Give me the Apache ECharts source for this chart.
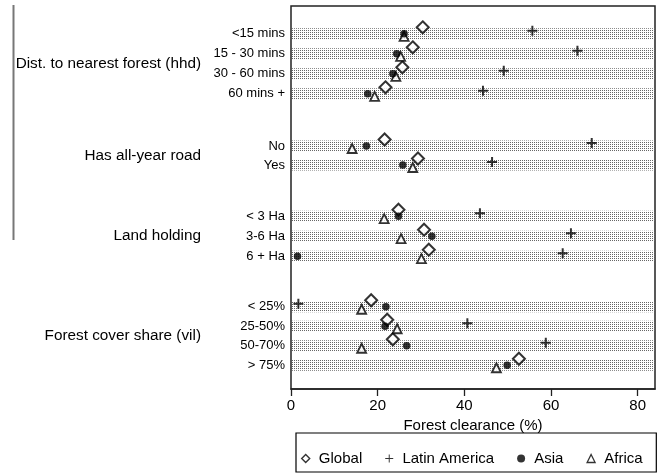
<!DOCTYPE html>
<html>
<head>
<meta charset="utf-8">
<script src="https://cdn.jsdelivr.net/npm/echarts@6/dist/echarts.min.js"></script>
<style>html,body{margin:0;padding:0;background:#fff;}#c{width:662px;height:474px;}</style>
</head>
<body>
<div id="c"></div>
<script>
// ---------- data ----------
const groups = ['Dist. to nearest forest (hhd)', 'Has all-year road', 'Land holding', 'Forest cover share (vil)'];
const catsDist = ['<15 mins', '15 - 30 mins', '30 - 60 mins', '60 mins +'];
const catsRoad = ['No', 'Yes'];
const catsLand = ['< 3 Ha', '3-6 Ha', '6 + Ha'];
const catsCover = ['< 25%', '25-50%', '50-70%', '> 75%'];
// values in row order (all groups concatenated)
const globalVals = [30.4, 28.1, 25.7, 21.8, 21.6, 29.3, 24.8, 30.7, 31.8, 18.5, 22.2, 23.5, 52.6];
const latinVals  = [55.7, 66.1, 49.1, 44.3, 69.4, 46.4, 43.6, 64.6, 62.7, 1.7, 40.7, 58.8, null];
const asiaVals   = [26.1, 24.4, 23.5, 17.7, 17.4, 25.8, 24.8, 32.5, 1.5, 21.9, 21.7, 26.7, 49.9];
const africaVals = [26.1, 25.3, 24.2, 19.3, 14.1, 28.1, 21.5, 25.4, 30.1, 16.3, 24.5, 16.3, 47.4];
const xTicks = [0, 20, 40, 60, 80];
const xMax = 84;
const seriesNames = ['Global', 'Latin America', 'Asia', 'Africa'];

// ---------- styling / layout ----------
const FONT = "'Liberation Sans', Arial, Helvetica, sans-serif";
const groupCats = [catsDist, catsRoad, catsLand, catsCover];
const gridTops = [23.8, 136.5, 206.2, 297];
const rowH = [20, 19, 20, 19.5];
const PLUS = 'path://M4,0 H6 V4 H10 V6 H6 V10 H4 V6 H0 V4 H4 Z';
const PLUS_THIN = 'path://M4.4,0 H5.6 V4.4 H10 V5.6 H5.6 V10 H4.4 V5.6 H0 V4.4 H4.4 Z';

const pc = document.createElement('canvas');
pc.width = 2; pc.height = 2;
const pctx = pc.getContext('2d');
pctx.fillStyle = '#666';
pctx.fillRect(0, 0, 1, 1);
const bandPattern = { image: pc, repeat: 'repeat' };

const seriesDefs = [
  { name: seriesNames[0], values: globalVals, symbol: 'diamond', size: 12, offset: [0, -6.5],
    itemStyle: { color: '#fff', borderColor: '#000', borderWidth: 2 }, z: 4 },
  { name: seriesNames[1], values: latinVals, symbol: PLUS, size: 10, offset: [0, -3],
    itemStyle: { color: '#000' }, z: 5 },
  { name: seriesNames[2], values: asiaVals, symbol: 'circle', size: 7.5, offset: [0, 0],
    itemStyle: { color: '#000' }, z: 7 },
  { name: seriesNames[3], values: africaVals, symbol: 'triangle', size: 9, offset: [0, 2.5],
    itemStyle: { color: '#fff', borderColor: '#000', borderWidth: 1.8 }, z: 6 }
];

const grids = [], xAxes = [], yAxes = [], series = [];
let start = 0;
groupCats.forEach((cats, g) => {
  grids.push({ left: 291, right: 7, top: gridTops[g], height: rowH[g] * cats.length });
  xAxes.push({ gridIndex: g, type: 'value', min: 0, max: xMax, show: false });
  yAxes.push({
    gridIndex: g, type: 'category', data: cats, inverse: true,
    axisLine: { show: false }, axisTick: { show: false }, splitLine: { show: false },
    axisLabel: { fontSize: 13, color: '#000', margin: 6, fontFamily: FONT }
  });
  yAxes.push({
    gridIndex: g, type: 'category', data: [groups[g]], position: 'left', offset: 82,
    axisLine: { show: false }, axisTick: { show: false }, splitLine: { show: false },
    axisLabel: { fontSize: 15.3, color: '#000', margin: 8, fontFamily: FONT }
  });
  series.push({
    type: 'bar', xAxisIndex: g, yAxisIndex: 2 * g, silent: true, z: 1,
    barWidth: 11, data: cats.map(() => xMax),
    itemStyle: { color: bandPattern }
  });
  seriesDefs.forEach(sd => {
    const data = [];
    cats.forEach((c, i) => {
      const v = sd.values[start + i];
      if (v !== null && v !== undefined) data.push([v, c]);
    });
    series.push({
      type: 'scatter', name: sd.name, xAxisIndex: g, yAxisIndex: 2 * g,
      symbol: sd.symbol, symbolSize: sd.size, symbolOffset: sd.offset,
      itemStyle: sd.itemStyle, z: sd.z, data: data
    });
  });
  start += cats.length;
});

// frame grid with bottom axis
grids.push({ left: 291, right: 7, top: 6, bottom: 85, show: true, borderColor: '#222', borderWidth: 1.5, backgroundColor: 'transparent' });
xAxes.push({
  gridIndex: 4, type: 'value', min: 0, max: xMax, position: 'bottom',
  name: 'Forest clearance (%)', nameLocation: 'middle', nameGap: 28,
  nameTextStyle: { fontSize: 15, color: '#000', fontFamily: FONT },
  axisLine: { show: true, lineStyle: { color: '#222', width: 1.5 } },
  axisTick: { show: true, length: 7, lineStyle: { color: '#222', width: 1.3 }, customValues: xTicks },
  axisLabel: { fontSize: 15, color: '#000', margin: 9, fontFamily: FONT, customValues: xTicks },
  splitLine: { show: false }
});
yAxes.push({ gridIndex: 4, type: 'value', show: false });

const chart = echarts.init(document.getElementById('c'), null, { renderer: 'canvas' });
chart.setOption({
  animation: false,
  backgroundColor: '#fff',
  textStyle: { fontFamily: FONT },
  grid: grids,
  xAxis: xAxes,
  yAxis: yAxes,
  legend: {
    left: 296, top: 433, orient: 'horizontal',
    itemWidth: 8, itemHeight: 8, itemGap: 23,
    padding: [18, 13.7, 6, 5],
    borderColor: '#000', borderWidth: 1.2,
    selectedMode: false,
    formatter: name => ' ' + name,
    textStyle: { fontSize: 15, color: '#000', fontFamily: FONT },
    data: [
      { name: seriesNames[0], icon: 'diamond', itemStyle: { color: '#fff', borderColor: '#000', borderWidth: 1.4 } },
      { name: seriesNames[1], icon: PLUS_THIN, itemStyle: { color: '#000' } },
      { name: seriesNames[2], icon: 'circle', itemStyle: { color: '#000' } },
      { name: seriesNames[3], icon: 'triangle', itemStyle: { color: '#fff', borderColor: '#000', borderWidth: 1.3 } }
    ]
  },
  graphic: [{
    type: 'line', shape: { x1: 13.5, y1: 5, x2: 13.5, y2: 240 },
    style: { stroke: '#777', lineWidth: 2 }, silent: true
  }],
  series: series
});
</script>
</body>
</html>
